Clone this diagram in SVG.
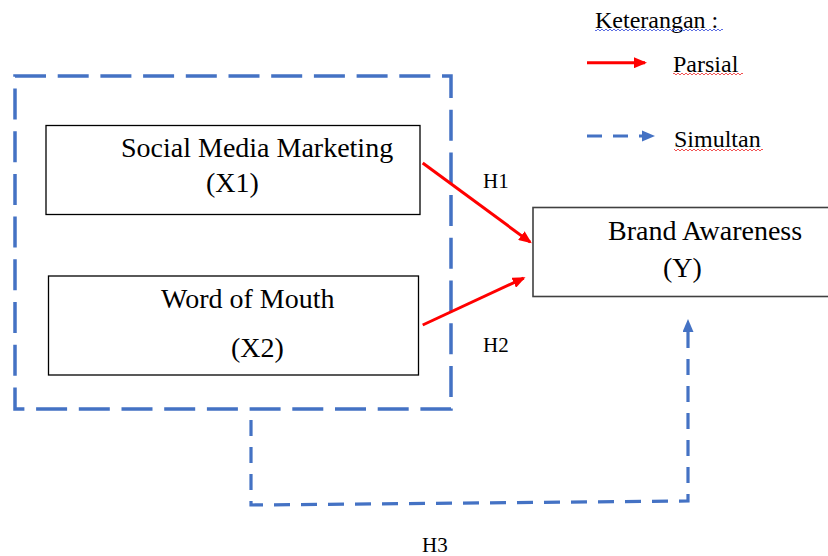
<svg xmlns="http://www.w3.org/2000/svg" width="828" height="556" viewBox="0 0 828 556">
  <style>
    text { fill: #000; }
    .node { font-size: 28px; }
    .hyp { font-size: 21px; }
    .legend { font-size: 24px; }
    .box { fill: #fff; stroke: #000; stroke-width: 1.3; }
    .partial { fill: none; stroke: #ff0000; stroke-width: 3; }
    .simul { fill: none; stroke: #4472c4; stroke-width: 3.2; }
  </style>
  <defs>
    <marker id="headRed" markerUnits="userSpaceOnUse" markerWidth="13" markerHeight="11" refX="11" refY="5.5" orient="auto">
      <path d="M0,0 L13,5.5 L0,11 z" fill="#ff0000"/>
    </marker>
    <marker id="headBlue" markerUnits="userSpaceOnUse" markerWidth="13" markerHeight="11" refX="0" refY="5.5" orient="auto">
      <path d="M0,0 L13,5.5 L0,11 z" fill="#4472c4"/>
    </marker>
    <pattern id="waveBlue" width="4" height="4" patternUnits="userSpaceOnUse">
      <path d="M0,3 L2,1 L4,3" fill="none" stroke="#4a5ee0" stroke-width="0.9"/>
    </pattern>
    <pattern id="waveRed" width="4" height="4" patternUnits="userSpaceOnUse">
      <path d="M0,3 L2,1 L4,3" fill="none" stroke="#f04040" stroke-width="0.9"/>
    </pattern>
  </defs>

  <g font-family="'Liberation Serif', 'DejaVu Serif', serif">
  <!-- grouping frame around the independent variables -->
  <g id="independent-frame">
    <rect x="15" y="76" width="436" height="333" fill="none" stroke="#4472c4" stroke-width="3.5" stroke-dasharray="31 11.7"/>
  </g>

  <g id="node-x1">
    <rect class="box" x="46" y="125.5" width="374" height="89"/>
    <text class="node" x="121" y="157">Social Media Marketing</text>
    <text class="node" x="206" y="192">(X1)</text>
  </g>

  <g id="node-x2">
    <rect class="box" x="48.5" y="276" width="370" height="99"/>
    <text class="node" x="161" y="307.5">Word of Mouth</text>
    <text class="node" x="231" y="357">(X2)</text>
  </g>

  <g id="node-y">
    <rect x="533" y="207.5" width="310" height="89" fill="#fff" stroke="#404040" stroke-width="1.6"/>
    <text class="node" x="608" y="239.5">Brand Awareness</text>
    <text class="node" x="663" y="277">(Y)</text>
  </g>

  <g id="connectors">
    <line class="partial" x1="422.7" y1="163" x2="530.2" y2="242.1" marker-end="url(#headRed)"/>
    <line class="partial" x1="422.7" y1="325" x2="523.7" y2="278.1" marker-end="url(#headRed)"/>
    <path class="simul" d="M251,410 V505 L688,501 V332" stroke-width="3" stroke-dasharray="16 11" stroke-dashoffset="17" marker-end="url(#headBlue)"/>
    <text class="hyp" x="483" y="188">H1</text>
    <text class="hyp" x="483" y="352">H2</text>
    <text class="hyp" x="422" y="552">H3</text>
  </g>

  <g id="legend">
    <text class="legend" x="595" y="28">Keterangan :</text>
    <rect x="595" y="28" width="128" height="4" fill="url(#waveBlue)"/>
    <line class="partial" x1="587" y1="62.7" x2="645" y2="62.7" marker-end="url(#headRed)"/>
    <text class="legend" x="673" y="72">Parsial</text>
    <rect x="673" y="72" width="70" height="4" fill="url(#waveRed)"/>
    <line class="simul" x1="587" y1="136" x2="643" y2="136" stroke-width="3" stroke-dasharray="15 11"/>
    <path d="M642,130.5 L655,136 L642,141.5 z" fill="#4472c4"/>
    <text class="legend" x="674" y="146.5">Simultan</text>
    <rect x="674" y="148" width="89" height="4" fill="url(#waveRed)"/>
  </g>
  </g>
</svg>
